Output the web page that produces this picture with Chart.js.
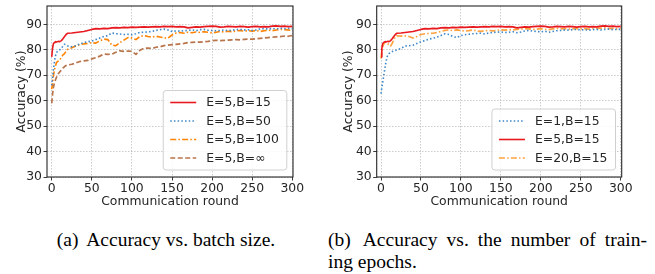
<!DOCTYPE html>
<html>
<head>
<meta charset="utf-8">
<script src="https://cdn.jsdelivr.net/npm/chart.js@4.4.1/dist/chart.umd.min.js"></script>
<style>
  html, body { margin: 0; padding: 0; background: #fff; }
  #wrap { position: relative; width: 655px; height: 274px; overflow: hidden; background: #fff; }
  canvas { position: absolute; top: 0; }
  #c1 { left: 0; }
  #c2 { left: 327px; }
  .cap { position: absolute; font-family: "Liberation Serif", "Times New Roman", serif; font-size: 19.5px; color: #000; white-space: nowrap; line-height: 22px; }
  .lab { margin-right: 4px; }
  #capA { left: 6px; width: 320px; top: 229px; text-align: center; }
  #capB1 { left: 328px; width: 319px; top: 229px; text-align: justify; text-align-last: justify; }
  #capB2 { left: 328px; top: 251px; }
</style>
</head>
<body>
<div id="wrap">
  <canvas id="c1" width="327" height="215"></canvas>
  <canvas id="c2" width="328" height="215"></canvas>
  <div class="cap" id="capA"><span class="lab">(a)</span> Accuracy vs. batch size.</div>
  <div class="cap" id="capB1"><span class="lab">(b)</span> Accuracy vs. the number of train-</div>
  <div class="cap" id="capB2">ing epochs.</div>
</div>
<script>
// ---------------- data ----------------
const rounds = [0,1,2,3,4,5,6,8,10,12,14,16,18,20,25,30,35,40,45,50,55,60,65,70,75,80,85,90,95,100,105,110,115,120,125,130,135,140,145,150,155,160,165,170,175,180,185,190,195,200,205,210,215,220,225,230,235,240,245,250,255,260,265,270,275,280,285,290,295,300];

const accE5B15 = [77.2,80.5,82.3,82.8,83.0,83.2,83.0,83.3,83.2,83.6,84.3,85.2,86.0,86.5,86.6,86.8,87.0,87.2,87.6,88.0,88.3,88.2,88.4,88.3,88.6,88.7,88.6,88.8,88.7,88.9,88.8,88.9,89.0,88.9,89.0,89.1,89.0,89.2,89.1,89.2,89.0,89.1,89.0,88.6,88.8,89.0,88.9,89.1,89.2,89.3,89.2,88.9,89.0,89.2,89.1,89.0,89.2,89.1,88.9,89.1,89.2,89.0,89.1,89.0,89.3,89.4,89.2,89.3,89.1,89.2];

const accE5B50 = [66.0,69.0,72.0,74.5,76.5,78.0,79.0,79.5,80.0,80.5,81.5,82.2,82.0,81.5,81.2,81.6,82.3,82.8,83.2,83.4,84.0,84.6,85.2,85.6,86.6,86.3,86.2,86.0,86.1,85.9,86.3,86.8,86.9,87.0,87.2,87.6,87.9,88.1,87.8,87.2,87.4,87.3,87.5,87.6,87.8,87.5,87.9,88.0,87.7,87.6,87.5,87.6,87.8,87.5,87.7,87.9,88.0,87.8,87.9,87.6,87.8,88.2,88.3,88.1,88.4,88.2,88.5,88.3,88.4,88.3];

const accE5B100 = [64.5,67.0,69.5,71.5,73.0,74.0,75.0,75.5,76.0,77.0,78.0,78.5,79.5,80.2,80.8,81.5,82.0,82.3,82.5,82.8,82.6,83.5,84.2,84.0,81.8,81.6,82.8,83.8,84.8,84.6,84.0,85.2,85.6,85.2,85.0,85.3,85.0,84.7,84.6,85.8,86.6,86.8,86.5,86.9,86.7,87.0,86.8,87.1,86.9,86.6,86.9,87.2,87.0,87.3,87.1,87.4,87.6,87.3,87.5,87.3,87.6,87.2,87.5,87.7,87.5,87.8,88.0,87.9,87.8,87.5];

const accE5BInf = [59.0,62.5,65.0,66.5,67.5,68.5,69.2,70.5,71.3,72.0,72.8,73.4,73.8,74.0,74.3,74.8,75.4,75.6,75.8,76.4,76.9,77.5,78.3,78.2,78.3,79.0,79.6,79.4,79.5,79.4,78.2,79.8,80.6,80.7,80.5,81.0,81.2,81.6,81.8,82.0,82.1,82.3,82.5,82.8,82.9,83.0,83.0,83.2,83.3,83.6,83.7,83.6,83.7,83.8,83.9,84.0,83.9,84.1,84.2,84.2,84.3,84.5,84.6,84.8,84.9,85.1,85.2,85.4,85.3,85.6];

const accE1B15 = [62.8,65.0,67.0,69.0,71.0,73.0,75.0,77.5,78.5,79.0,79.3,79.5,79.7,80.0,80.5,81.5,81.6,81.8,82.5,83.2,83.6,84.2,84.5,85.0,85.6,86.3,86.0,85.2,84.8,85.6,85.9,86.1,86.3,86.4,86.5,86.2,86.6,86.8,86.9,87.0,86.8,86.9,87.1,86.7,87.0,87.4,87.6,87.3,87.2,87.0,87.3,86.9,87.2,87.5,87.6,87.8,87.7,87.9,88.0,87.8,87.9,87.7,87.9,88.0,87.8,88.0,88.1,87.9,88.0,88.0];

const accE20B15 = [76.5,79.5,81.0,82.0,82.5,82.8,83.0,82.5,82.0,81.5,82.5,84.0,85.2,85.5,85.4,85.5,85.2,84.6,85.2,86.0,86.3,86.4,86.5,86.8,87.2,87.6,87.8,87.5,87.8,87.6,87.4,87.5,87.8,87.4,87.2,87.5,87.6,87.4,87.6,87.8,87.7,87.9,87.8,88.0,88.1,88.3,88.2,88.0,88.1,88.3,88.0,87.9,88.2,88.4,88.3,88.2,88.1,88.3,88.4,88.2,88.3,88.1,88.3,88.4,88.5,88.6,88.3,88.4,88.2,88.3];

const xTickValues = [0,50,100,150,200,250,300];
const yTickValues = [30,40,50,60,70,80,90];
const labelsA = ["E=5,B=15","E=5,B=50","E=5,B=100","E=5,B=\u221e"];
const labelsB = ["E=1,B=15","E=5,B=15","E=20,B=15"];
const xTitle = "Communication round";
const yTitle = "Accuracy (%)";

// ---------------- helpers ----------------
const FONT = "'DejaVu Sans', 'Liberation Sans', sans-serif";
const TXT = '#262626';
const pts = (vals) => rounds.map((r, i) => ({x: r, y: vals[i]}));

const STYLE = {
  red:    {borderColor: '#e8191f', borderWidth: 1.6, borderDash: []},
  blue:   {borderColor: '#3b86c8', borderWidth: 1.6, borderDash: [1.5, 2.2]},
  orange: {borderColor: '#ff8200', borderWidth: 1.6, borderDash: [6, 2.2, 1.5, 2.2]},
  brown:  {borderColor: '#b8744a', borderWidth: 1.7, borderDash: [5, 2.5]},
  lorange:{borderColor: '#ffa240', borderWidth: 1.7, borderDash: [6, 2.2, 1.5, 2.2]}
};

function ds(label, vals, st) {
  return Object.assign({label, data: pts(vals), pointRadius: 0, tension: 0, fill: false,
    borderCapStyle: 'butt', borderJoinStyle: 'round'}, st);
}

const framePlugin = {
  id: 'frame',
  afterDraw(chart) {
    const {ctx, chartArea: a} = chart;
    ctx.save();
    ctx.strokeStyle = '#262626';
    ctx.lineWidth = 1.1;
    ctx.strokeRect(a.left, a.top, a.right - a.left, a.bottom - a.top);
    ctx.restore();
  }
};

const legendPlugin = {
  id: 'mplLegend',
  afterDatasetsDraw(chart, args, opts) {
    const {ctx, chartArea: a} = chart;
    const order = opts.order;
    const n = order.length;
    ctx.save();
    ctx.font = `12.4px ${FONT}`;
    let tw = 0;
    order.forEach(i => { tw = Math.max(tw, ctx.measureText(chart.data.datasets[i].label).width); });
    const w = 7 + 26 + 10 + tw + 8;
    const rowH = 18.5;
    const h = 24 + (n - 1) * rowH;
    const x = a.right - 6.2 - w;
    const y = a.bottom - 7 - h;
    ctx.beginPath();
    ctx.roundRect(x, y, w, h, 3);
    ctx.fillStyle = 'rgba(255,255,255,0.85)';
    ctx.fill();
    ctx.strokeStyle = '#d0d0d0';
    ctx.lineWidth = 1;
    ctx.stroke();
    order.forEach((di, k) => {
      const d = chart.data.datasets[di];
      const cy = y + 12 + k * rowH;
      ctx.beginPath();
      ctx.setLineDash(d.borderDash || []);
      ctx.strokeStyle = d.borderColor;
      ctx.lineWidth = d.borderWidth;
      ctx.moveTo(x + 7, cy);
      ctx.lineTo(x + 33, cy);
      ctx.stroke();
      ctx.setLineDash([]);
      ctx.fillStyle = TXT;
      ctx.textBaseline = 'middle';
      ctx.textAlign = 'left';
      ctx.fillText(d.label, x + 43, cy + 0.5);
    });
    ctx.restore();
  }
};

function makeOptions(yAxisW, xmin, xmax, order) {
  const gridCommon = {
    color: 'rgba(170,170,170,0.75)', lineWidth: 0.8,
    drawTicks: true, tickLength: 3.5, tickColor: '#262626', tickWidth: 0.9, tickBorderDash: []
  };
  return {
    responsive: false, animation: false, devicePixelRatio: 1,
    layout: {padding: {top: 6, left: 0, right: 0, bottom: 0}},
    plugins: {legend: {display: false}, tooltip: {enabled: false}, mplLegend: {order}},
    scales: {
      x: {
        type: 'linear', min: xmin, max: xmax,
        afterBuildTicks: (s) => { s.ticks = xTickValues.map(v => ({value: v})); },
        afterFit: (s) => { s.height = 38; s.paddingLeft = 0; s.paddingRight = 0; },
        grid: gridCommon,
        border: {display: false, dash: [1.5, 1.5]},
        ticks: {font: {family: FONT, size: 12.4}, color: TXT, padding: 1, maxRotation: 0, autoSkip: false},
        title: {display: true, text: xTitle, font: {family: FONT, size: 12.4}, color: TXT, padding: {top: 6, bottom: 6}}
      },
      y: {
        type: 'linear', min: 30, max: 97.2,
        afterBuildTicks: (s) => { s.ticks = yTickValues.map(v => ({value: v})); },
        afterFit: (s) => { s.width = yAxisW; s.paddingTop = 0; s.paddingBottom = 0; },
        grid: gridCommon,
        border: {display: false, dash: [1.5, 1.5]},
        ticks: {font: {family: FONT, size: 12.4}, color: TXT, padding: 1.5, autoSkip: false},
        title: {display: true, text: yTitle, font: {family: FONT, size: 12.4}, color: TXT, padding: {top: 14.4, bottom: 14.4}}
      }
    }
  };
}

const optA = makeOptions(47, -5.9, 300.9, [0, 1, 2, 3]);
optA.layout.padding.right = 34;
new Chart(document.getElementById('c1'), {
  type: 'line',
  data: {datasets: [
    ds(labelsA[0], accE5B15, STYLE.red),
    ds(labelsA[1], accE5B50, STYLE.blue),
    ds(labelsA[2], accE5B100, STYLE.orange),
    ds(labelsA[3], accE5BInf, STYLE.brown)
  ]},
  options: optA,
  plugins: [legendPlugin, framePlugin]
});

const optB = makeOptions(49.7, -5.4, 301.2, [0, 1, 2]);
optB.layout.padding.right = 33.3;
new Chart(document.getElementById('c2'), {
  type: 'line',
  data: {datasets: [
    ds(labelsB[0], accE1B15, STYLE.blue),
    ds(labelsB[1], accE5B15, STYLE.red),
    ds(labelsB[2], accE20B15, STYLE.lorange)
  ]},
  options: optB,
  plugins: [legendPlugin, framePlugin]
});
</script>
</body>
</html>
